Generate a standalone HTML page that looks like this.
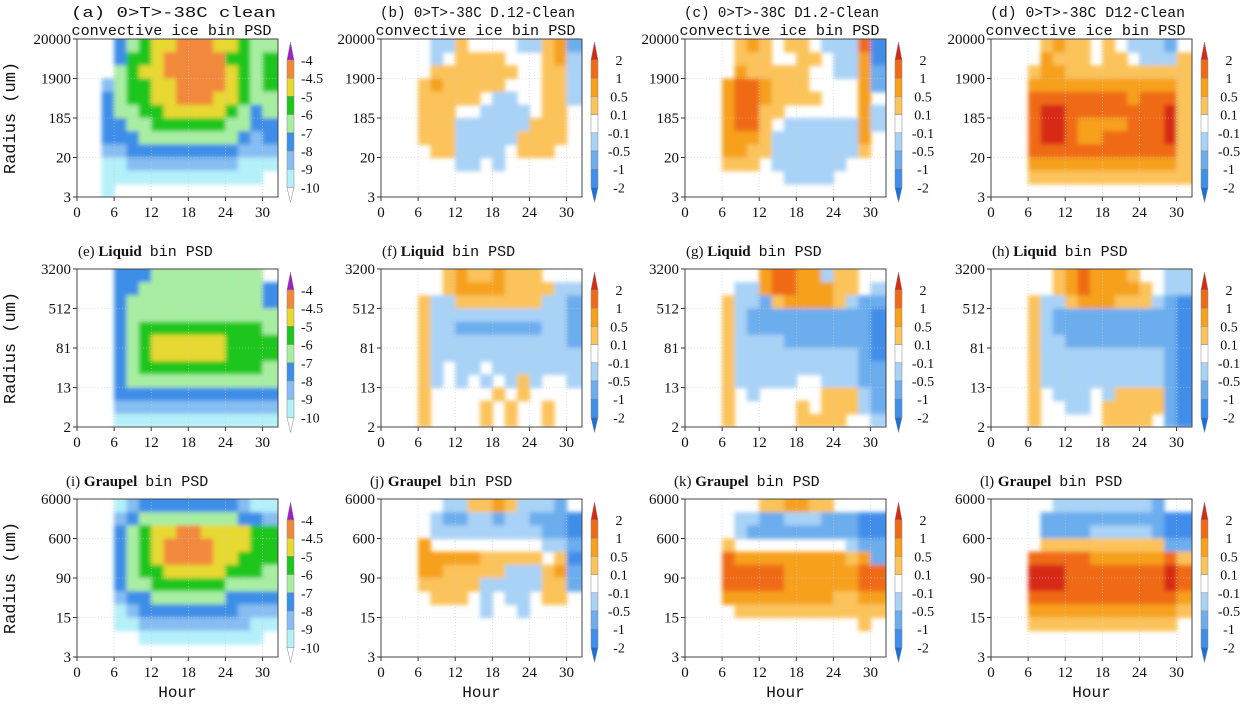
<!DOCTYPE html>
<html><head><meta charset="utf-8"><style>
html,body{margin:0;padding:0;background:#fff;}
svg{display:block;}
text{font-family:"Liberation Serif",serif;fill:#111;}
.mono{font-family:"Liberation Mono",monospace;}
</style></head><body>
<svg id="fig" width="1249" height="708" viewBox="0 0 1249 708">
<defs><filter id="soft" x="-5%" y="-5%" width="110%" height="110%"><feGaussianBlur stdDeviation="2.2"/></filter></defs>
</svg>
<script>
// ---- data ----
const hourTicks = [0, 6, 12, 18, 24, 30];
const hourMax = 32.5;
const binHours = 2;
const yTicksIce = ["20000", "1900", "185", "20", "3"];
const yTicksLiq = ["3200", "512", "81", "13", "2"];
const yTicksGra = ["6000", "600", "90", "15", "3"];
const ctrLevels = ["-4", "-4.5", "-5", "-6", "-7", "-8", "-9", "-10"];
const diffLevels = ["2", "1", "0.5", "0.1", "-0.1", "-0.5", "-1", "-2"];
const ctrColors = ["#ffffff", "#b4f0fa", "#86bdf2", "#3c8ee8", "#a8eea2", "#1cc61c", "#e8d832", "#f2883a", "#9b20c9"];
const diffColors = ["#1a6fe0", "#3f8eea", "#6cadee", "#a8d2f6", "#ffffff", "#fbc35a", "#f6a01c", "#f06a16", "#d62a12"];
// level index grids: rows top (largest radius) -> bottom, columns = 2-hour bins
const gridA = ["0003456677766544","0003556777775545","0004566777776545","0024556677776545","0034556677766544","0034455666665434","0033445555554433","0033344444444323","0022333333333222","0011222222222111","0011111111111110","0010000000000000"];
const gridB = ["4444335444433562","4444345555444563","4444555555544553","4445655555444553","4445555543344553","4445554433334554","4445553333335554","4445553333355554","4444553333455544","4444443343444444","4444444444444444","4444444444444444"];
const gridC = ["4444565455433371","4444555445543361","4444655555443362","4446776555444462","4446776555544464","4446775544444463","4446775433333363","4446665333333364","4446655333333354","4445554333333444","4444444433334444","4444444444444444"];
const gridD = ["4444565545433324","4444655545543335","4445665555555555","4446666666666665","4447777777767775","4447887777777785","4447887666677785","4447887667777785","4447777777777775","4446666666666665","4445555555555555","4444444444444444"];
const gridE = ["0003334444444440","0003344444444443","0003444444444443","0003444444444444","0003455555555554","0003456666665555","0003456666665555","0003455555555554","0003444444444444","0003333333333333","0002222222222222","0001111111111111"];
const gridF = ["4444456556555444","4444456666555533","4445335555555332","4445333333333332","4445332222222332","4445333333333332","4445333333333333","4445343343333333","4445343434353443","4445444445454444","4445444454544544","4445444454544544"];
const gridG = ["4444446776635544","4444336776665543","4445332566665322","4445322222222221","4445322222222221","4445333322222221","4445333333333321","4445333333333322","4445333334433322","4445434444455532","4445444445455532","4445444445555443"];
const gridH = ["4444456766654433","4444456766665433","4445335666555321","4445322222222221","4445322222222221","4445332222222221","4445333333333321","4445333333333321","4445333333333321","4445433343555521","4445443345555521","4445444445555421"];
const gridI = ["0001233333333211","0002344444444332","0003456677666655","0003456777766655","0003456777766555","0003455666665554","0003445555554444","0002334444443333","0001233333333222","0001122222222211","0000011111111110","0000000000000000"];
const gridJ = ["4444433556533324","4444322332332221","4444333333333221","4446444444444332","4446666655555451","4446655555333562","4445555533333552","4444555434334554","4444444434434444","4444444444444444","4444444444444444","4444444444444444"];
const gridK = ["4444445566554444","4444332233322211","4444322222222211","4445444444444322","4447666666666562","4447777766666677","4447777766666677","4446666666665566","4444555555555555","4444444444444454","4444444444444444","4444444444444444"];
const gridL = ["4444433333333244","4444222222222211","4444222233333211","4444555555555522","4447777766666675","4448887777777787","4448887777777787","4447777777777776","4446666666666665","4445555555555554","4444444444444444","4444444444444444"];

// ---- layout ----
const NS = "http://www.w3.org/2000/svg";
const svg = document.getElementById("fig");
const defs = svg.querySelector("defs");
const colLeft = [77, 381, 685, 991];
const rowTop = [39, 269, 499];
const PW = 201, PH = 158;

function mk(tag, attrs, parent, txt) {
  const e = document.createElementNS(NS, tag);
  for (const k in attrs) e.setAttribute(k, attrs[k]);
  if (txt !== undefined) e.textContent = txt;
  (parent || svg).appendChild(e);
  return e;
}
function xScale(h, c) { return colLeft[c] + h / hourMax * PW; }
function yScale(i, n, r) { return rowTop[r] + i / n * PH; }

const panels = [
  {id:"a", r:0, c:0, grid:gridA, diff:false, t1:"(a)  0>T>-38C clean", t2:"convective  ice  bin  PSD", yt:yTicksIce},
  {id:"b", r:0, c:1, grid:gridB, diff:true, t1:"(b) 0>T>-38C D.12-Clean", t2:"convective  ice  bin  PSD", yt:yTicksIce},
  {id:"c", r:0, c:2, grid:gridC, diff:true, t1:"(c) 0>T>-38C D1.2-Clean", t2:"convective  ice  bin  PSD", yt:yTicksIce},
  {id:"d", r:0, c:3, grid:gridD, diff:true, t1:"(d) 0>T>-38C D12-Clean", t2:"convective  ice  bin  PSD", yt:yTicksIce},
  {id:"e", r:1, c:0, grid:gridE, diff:false, sp:"Liquid", yt:yTicksLiq},
  {id:"f", r:1, c:1, grid:gridF, diff:true, sp:"Liquid", yt:yTicksLiq},
  {id:"g", r:1, c:2, grid:gridG, diff:true, sp:"Liquid", yt:yTicksLiq},
  {id:"h", r:1, c:3, grid:gridH, diff:true, sp:"Liquid", yt:yTicksLiq},
  {id:"i", r:2, c:0, grid:gridI, diff:false, sp:"Graupel", yt:yTicksGra},
  {id:"j", r:2, c:1, grid:gridJ, diff:true, sp:"Graupel", yt:yTicksGra},
  {id:"k", r:2, c:2, grid:gridK, diff:true, sp:"Graupel", yt:yTicksGra},
  {id:"l", r:2, c:3, grid:gridL, diff:true, sp:"Graupel", yt:yTicksGra}
];

panels.forEach(p => {
  const g = mk("g", {});
  
  
  const L = colLeft[p.c], T = rowTop[p.r];
  const cols = p.diff ? diffColors : ctrColors;
  const cp = mk("clipPath", {id:"clip-" + p.id}, defs);
  mk("rect", {x:L, y:T, width:PW, height:PH}, cp);
  const outer = mk("g", {"clip-path":"url(#clip-" + p.id + ")"}, g);
  const cg = mk("g", {filter:"url(#soft)"}, outer);
  
  
  const nr = p.grid.length;
  p.grid.forEach((row, ri) => {
    for (let ci = 0; ci < row.length; ci++) {
      const lv = +row[ci];
      if ((p.diff && lv === 4) || (!p.diff && lv === 0)) continue;
      const h0 = ci * binHours;
      const h1 = ci === row.length - 1 ? hourMax + 1 : (ci + 1) * binHours;
      const x0 = xScale(h0, p.c), x1 = xScale(h1, p.c);
      const y0 = yScale(ri, nr, p.r) - (ri === 0 ? 4 : 0), y1 = yScale(ri + 1, nr, p.r);
      const cell = mk("rect", {x:x0.toFixed(1), y:y0.toFixed(1), width:(x1-x0+0.6).toFixed(1), height:(y1-y0+0.6).toFixed(1), fill:cols[lv]}, cg);
      
      
    }
  });
  hourTicks.slice(1).forEach(h => {
    const ln = mk("line", {x1:xScale(h,p.c), x2:xScale(h,p.c), y1:T, y2:T+PH, stroke:"#ccc", "stroke-width":0.6, "stroke-dasharray":"1,2"}, g);
    
    
  });
  p.yt.forEach((lab, i) => {
    const y = T + i / (p.yt.length - 1) * PH;
    if (i > 0 && i < p.yt.length - 1) {
      const ln = mk("line", {x1:L, x2:L+PW, y1:y, y2:y, stroke:"#ccc", "stroke-width":0.6, "stroke-dasharray":"1,2"}, g);
      
      
    }
    const tk = mk("line", {x1:L-4, x2:L, y1:y, y2:y, stroke:"#333", "stroke-width":1}, g);
    
    
    const tl = mk("text", {x:L-6, y:y+5, "text-anchor":"end", "font-size":15}, g, lab);
    
    
  });
  hourTicks.forEach(h => {
    const x = xScale(h, p.c);
    const tk = mk("line", {x1:x, x2:x, y1:T+PH, y2:T+PH+4, stroke:"#333", "stroke-width":1}, g);
    
    
    const tl = mk("text", {x:x, y:T+PH+20, "text-anchor":"middle", "font-size":15}, g, String(h));
    
    
  });
  const fr = mk("rect", {x:L, y:T, width:PW, height:PH, fill:"none", stroke:"#444", "stroke-width":1}, g);
  
  
  if (p.t1) {
    const t1 = mk("text", {x:L+PW/2-4, y:17, "text-anchor":"middle", "font-size":15, class:"mono", textLength:p.c===0?205:195, lengthAdjust:"spacingAndGlyphs"}, g, p.t1);
    
    
    const t2 = mk("text", {x:L+PW/2-6, y:35, "text-anchor":"middle", "font-size":15, class:"mono", textLength:200, lengthAdjust:"spacingAndGlyphs"}, g, p.t2);
    
    
  } else {
    const tx = p.sp === "Liquid" ? L + 1 : L - 11;
    const t = mk("text", {x:tx, y:T-13, "font-size":15}, g);
    
    
    mk("tspan", {}, t, "(" + p.id + ") ");
    mk("tspan", {"font-weight":"bold"}, t, p.sp);
    mk("tspan", {class:"mono", dx:8}, t, "bin  PSD");
  }
  if (p.r === 2) {
    const hl = mk("text", {x:L+PW/2, y:697, "text-anchor":"middle", "font-size":16, class:"mono"}, g, "Hour");
    
    
  }
  if (p.c === 0) {
    const yl = mk("text", {x:0, y:0, "text-anchor":"middle", "font-size":17, class:"mono", transform:"translate(15," + (T+PH/2) + ") rotate(-90)"}, g, "Radius (um)");
    
    
  }
  const cb = mk("g", {}, g);
  
  
  const cx = L + 210, cw = 7, top = T + 21, bh = 18.2;
  const labs = p.diff ? diffLevels : ctrLevels;
  const topCol = p.diff ? diffColors[8] : ctrColors[8];
  mk("polygon", {points:`${cx},${top} ${cx+cw/2},${T+3} ${cx+cw},${top}`, fill:topCol, stroke:"#888", "stroke-width":0.5}, cb);
  for (let k = 0; k < labs.length - 1; k++) {
    const colr = p.diff ? diffColors[7 - k] : ctrColors[7 - k];
    mk("rect", {x:cx, y:top + k*bh, width:cw, height:bh, fill:colr, stroke:"#888", "stroke-width":0.5}, cb);
  }
  const bot = top + (labs.length - 1) * bh;
  mk("polygon", {points:`${cx},${bot} ${cx+cw/2},${bot+15} ${cx+cw},${bot}`, fill:p.diff?diffColors[0]:"#fff", stroke:"#888", "stroke-width":0.5}, cb);
  labs.forEach((lab, k) => {
    const t = p.diff
      ? mk("text", {x:cx+28, y:top + k*bh + 5, "text-anchor":"middle", "font-size":14}, cb, lab)
      : mk("text", {x:cx+14, y:top + k*bh + 5, "font-size":14}, cb, lab);
    
    
  });
});
</script>
</body></html>
